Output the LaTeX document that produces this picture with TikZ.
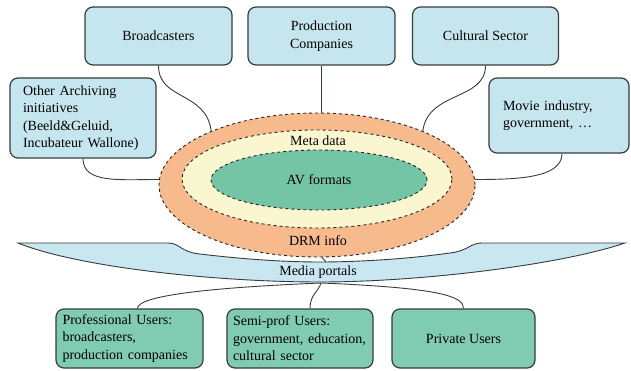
\documentclass[tikz,border=0pt]{standalone}
\usepackage{fontspec}
\setmainfont{Liberation Serif}
\usetikzlibrary{shapes.geometric}

\definecolor{boxblue}{RGB}{197,230,238}
\definecolor{boxgreen}{RGB}{128,204,178}
\definecolor{avgreen}{RGB}{116,196,166}
\definecolor{ringorange}{RGB}{246,186,140}
\definecolor{ringyellow}{RGB}{250,247,208}
\definecolor{portalblue}{RGB}{200,231,241}
\definecolor{edge}{RGB}{55,60,60}

\tikzset{
  tag/.style={font=\fontsize{14}{17.5}\selectfont, inner sep=1pt},
  box/.style={tag, draw=edge, line width=1.2pt, rounded corners=8pt, inner ysep=0pt},
  bluebox/.style={box, fill=boxblue},
  greenbox/.style={box, fill=boxgreen},
  ring/.style={ellipse, draw=black!85, dashed, line width=0.9pt, inner sep=0pt},
  link/.style={draw=edge, line width=0.9pt},
}

\begin{document}
\begin{tikzpicture}[x=1pt,y=-1pt]
    \useasboundingbox (0,0) rectangle (631,371);

    % media portals band
    \path[link, fill=portalblue] (18,243) -- (168,243)
        .. controls (180,243) and (180,252) .. (200,254)
        .. controls (250,260) and (290,262) .. (320,262)
        .. controls (350,262) and (400,260) .. (450,253)
        .. controls (468,251) and (470,243) .. (482,243) -- (625,243)
        .. controls (560,265) and (420,282) .. (320,282)
        .. controls (220,282) and (80,268) .. (18,243) -- cycle;
    \path (318,272) node [tag] (portals) {Media portals};
    \coordinate (portaltop) at (326,262);
    \coordinate (hub) at (321,283);

    % rings
    \path (317,185) node [ring, fill=ringorange, minimum width=316pt, minimum height=144pt] (drm) {};
    \path (317,179) node [ring, fill=ringyellow, minimum width=270pt, minimum height=98pt] (meta) {};
    \path (319,180) node [ring, fill=avgreen, minimum width=216pt, minimum height=60pt, font=\fontsize{14}{17.5}\selectfont] (av) {AV formats};
    \path (318,141) node [tag] (metatext) {Meta data};
    \path (318,241) node [tag] (drmtext) {DRM info};

    % suppliers
    \path (158.5,36) node [bluebox, minimum width=147pt, minimum height=58pt] (broad) {Broadcasters};
    \path (321.5,36) node [bluebox, minimum width=147pt, minimum height=58pt, align=center] (prod) {Production\\Companies};
    \path (485.5,36) node [bluebox, minimum width=146pt, minimum height=58pt] (cult) {Cultural Sector};
    \path (83,118) node [bluebox, text width=120pt, inner xsep=13pt, minimum height=80pt, align=left] (other) {Other Archiving\\initiatives\\(Beeld\&Geluid,\\Incubateur Wallone)};
    \path (559,115.5) node [bluebox, text width=112pt, inner xsep=14pt, minimum height=75pt, align=left] (movie) {Movie industry,\\government, \dots};

    % users
    \path (129.5,338.5) node [greenbox, text width=134pt, inner xsep=6.5pt, minimum height=59pt, align=left] (prof) {Professional Users:\\broadcasters,\\production companies};
    \path (300,338.5) node [greenbox, text width=134pt, inner xsep=6pt, minimum height=59pt, align=left] (semi) {Semi-prof Users:\\government, education,\\cultural sector};
    \path (463.5,338.5) node [greenbox, minimum width=143pt, minimum height=59pt] (priv) {Private Users};

    \draw[link] (broad.south) .. controls +(0,35) and +(-5,-40) .. (drm.153);
    \draw[link] (prod.south) -- (prod.south |- drm.north);
    \draw[link] (cult.south) .. controls +(0,35) and +(5,-40) .. (drm.27);
    \draw[link] (other.south) .. controls +(0,25) and +(-40,0) .. (drm.178);
    \draw[link] ([xshift=3pt]movie.south) .. controls +(0,25) and +(40,0) .. (drm.2);
    \draw[link] (drm.-86) -- (portaltop);
    \draw[link] ([xshift=8pt]prof.north) .. controls +(0,-12) and +(-120,5) .. (hub);
    \draw[link] ([xshift=10pt]semi.north) .. controls +(0,-14) and +(-2,8) .. (hub);
    \draw[link] (priv.north) .. controls +(0,-12) and +(120,5) .. (hub);
\end{tikzpicture}
\end{document}
